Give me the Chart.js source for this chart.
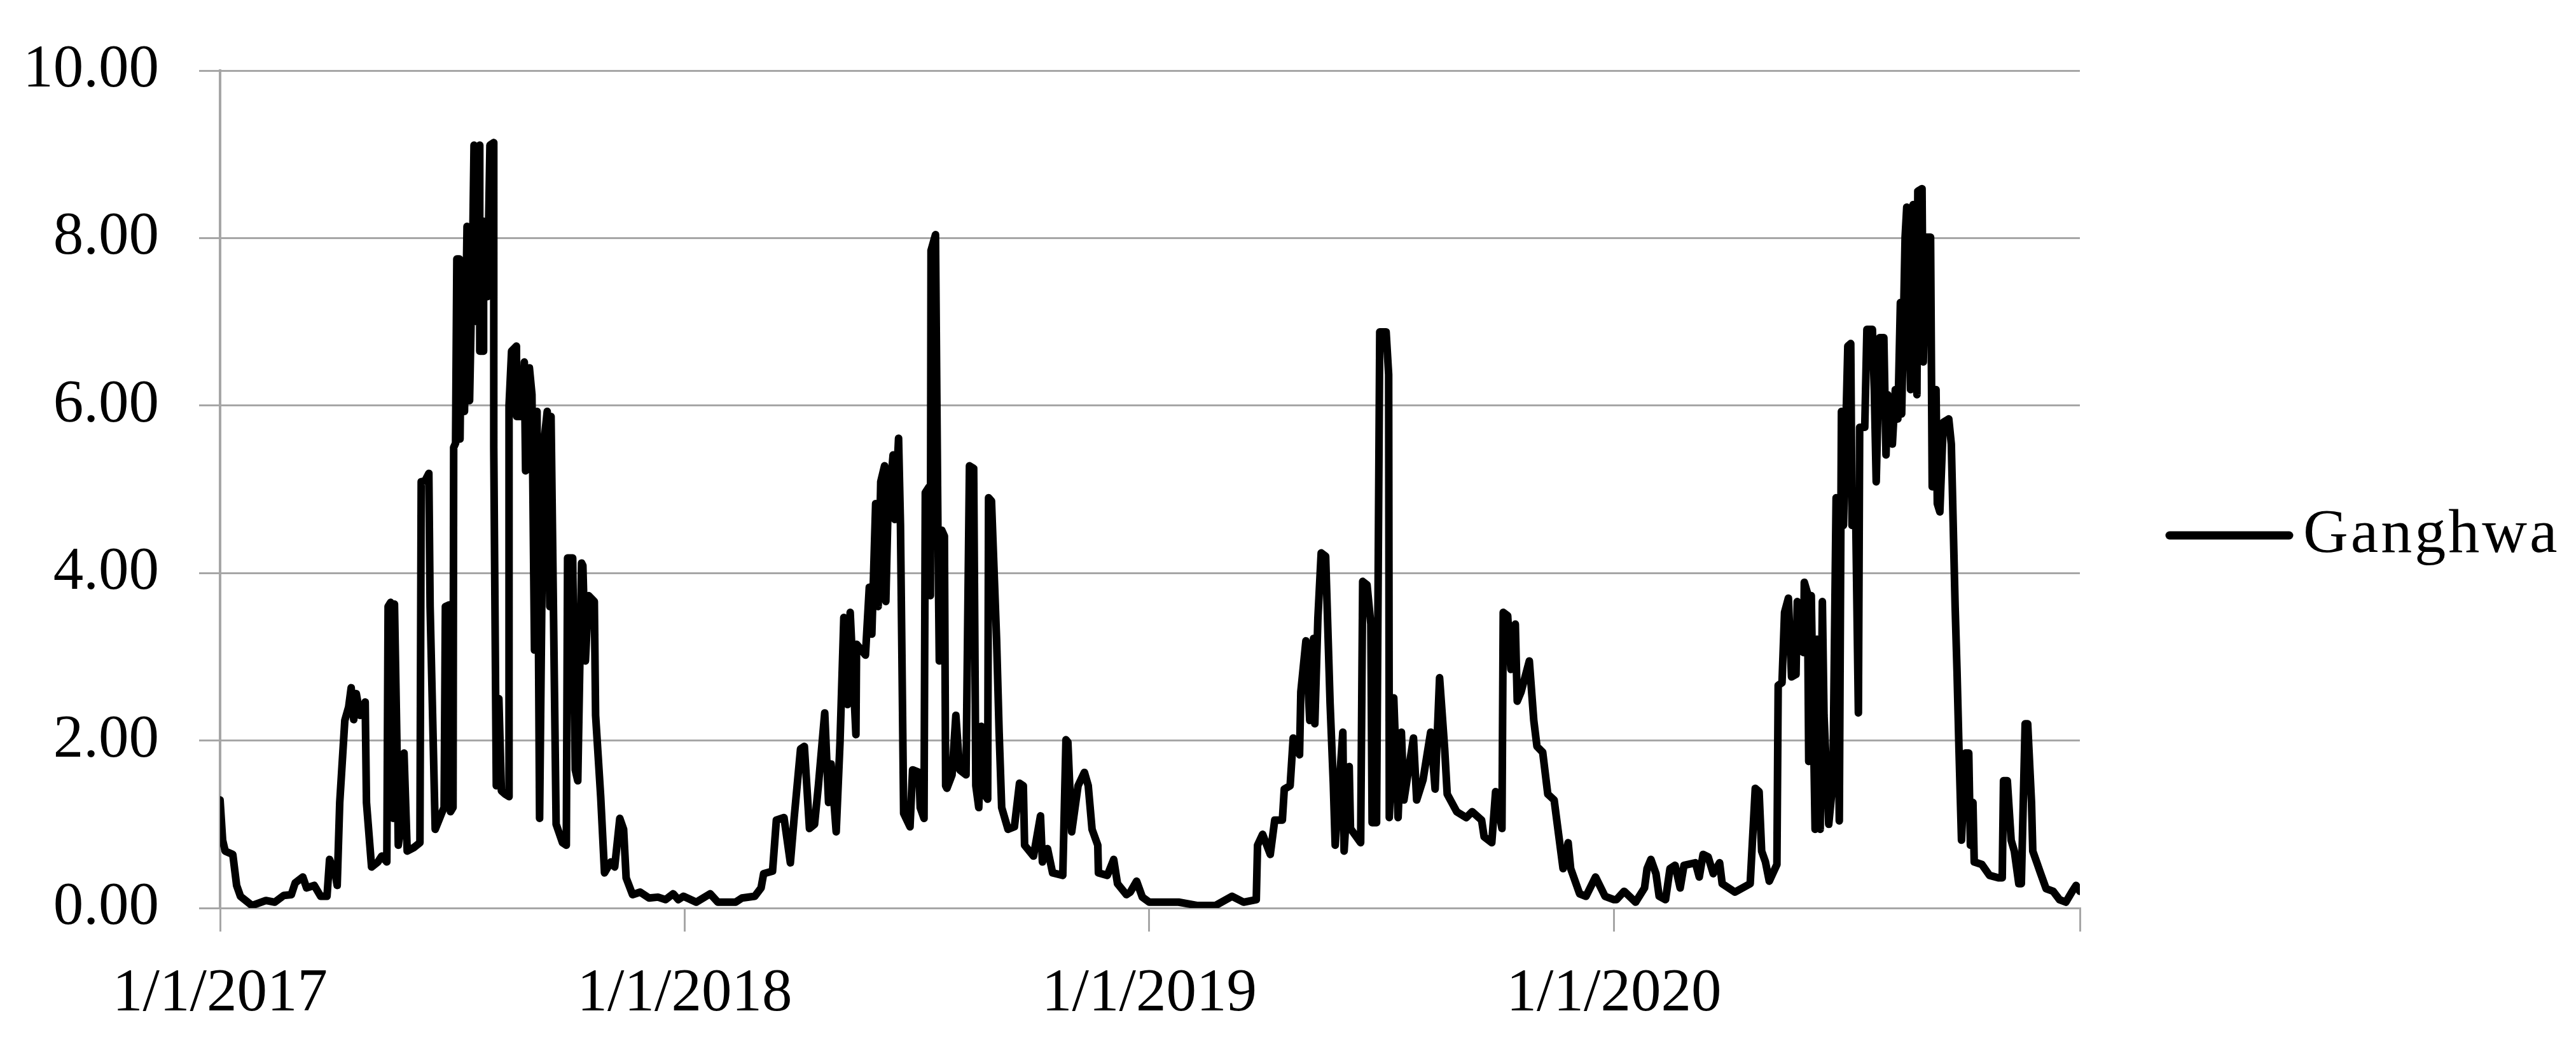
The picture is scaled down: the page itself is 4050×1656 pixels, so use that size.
<!DOCTYPE html>
<html>
<head>
<meta charset="utf-8">
<script src="https://cdn.jsdelivr.net/npm/chart.js@4.4.1/dist/chart.umd.min.js"></script>
<style>
html,body{margin:0;padding:0;background:#ffffff;}
#wrap{width:4050px;height:1656px;}
</style>
</head>
<body>
<div id="wrap"><canvas id="c" width="4050" height="1656"></canvas></div>
<script>
// ---- data (x = days since 1/1/2017) ----
const seriesName = 'Ganghwa';
const tickDays = [0, 365, 730, 1095, 1461];
const tickLabels = ['1/1/2017', '1/1/2018', '1/1/2019', '1/1/2020', ''];
const yTicks = [0, 2, 4, 6, 8, 10];

const days2017 = [0,2,4,10,13,16,25,36,43,50,56,59,65,68,74,79,84,86,88,90,92,94,98,101,103,105,107,110,114,115,119,124,127,131,132,134,136,137,139,140,143,144.5,147,152,157,158,161,164,165,169,174,176,177,180,181,183,183.5,185,186,188,188.5,190,192,194,196,198.7,199.5,202,204,204,207,207,210,212,215,215,217,219,221,224,227,227,229,232.8,233,237,239,240,243,245,247,249,251,254,257,259,260,264,269,272,273,277,279,281,284,285,287,289.5,294,295,299,302,307,310,314,317,319,324,330,337,344,350,356,360];
const vals2017 = [1.29,0.81,0.68,0.64,0.27,0.14,0.03,0.09,0.07,0.15,0.16,0.30,0.37,0.24,0.27,0.14,0.14,0.58,0.50,0.45,0.27,1.26,2.24,2.40,2.63,2.25,2.56,2.30,2.46,1.26,0.49,0.55,0.62,0.55,3.60,3.65,1.07,3.63,1.90,0.75,1.10,1.85,0.68,0.72,0.78,5.09,5.10,5.19,3.60,0.94,1.13,1.20,3.60,3.62,1.15,1.20,5.50,5.55,7.75,7.75,5.60,7.70,5.93,8.14,6.06,8.20,9.11,7.00,9.11,6.65,6.65,8.20,7.30,9.11,9.14,5.50,1.46,2.50,1.40,1.36,1.33,6.00,6.65,6.71,5.87,5.87,6.52,5.22,6.45,6.13,3.08,5.93,1.07,5.50,5.93,3.60,5.87,1.00,0.78,0.75,4.18,4.18,1.65,1.52,4.12,4.09,2.95,3.73,3.66,2.30,1.33,0.42,0.55,0.49,1.07,0.94,0.36,0.16,0.19,0.12,0.13,0.10,0.17,0.10];

const days2018 = [364,374,385,391,405,410,420,425,427,434,437,443,448,451,456,459,463,467,470,475,478,480,484,487,490,493,495,499.5,500,507,510,512,515,517,519,522,523,524.5,528.7,530,533,534.5,537,542,544,549,550,553,554,557,558,558.5,562,564,565,567,569,570,571,575,578,581,586,588.7,592,593.7,596,598,599,603,603.7,606,610,612,614,619,624,628,631,632,639,644.5,646,650,654,662,664.5,666,669,674,679,682,685,689.5,690,697,702,705,712,715,720,724.5];
const vals2018 = [0.14,0.07,0.17,0.07,0.07,0.12,0.14,0.24,0.41,0.44,1.05,1.08,0.54,1.08,1.90,1.93,0.95,1.00,1.46,2.33,1.26,1.72,0.91,1.98,3.47,2.43,3.53,2.07,3.15,3.02,3.83,3.27,4.83,3.60,5.09,5.28,3.66,4.64,5.41,4.64,5.61,4.57,1.13,0.97,1.65,1.62,1.20,1.07,4.96,5.03,3.73,7.85,8.04,4.38,2.95,4.51,4.44,1.46,1.43,1.59,2.30,1.65,1.59,5.28,5.25,1.46,1.20,2.17,1.39,1.30,4.90,4.86,3.21,2.10,1.20,0.94,0.97,1.49,1.46,0.75,0.62,1.10,0.55,0.71,0.42,0.39,2.01,1.98,0.91,1.46,1.62,1.46,0.94,0.75,0.42,0.39,0.58,0.29,0.16,0.19,0.32,0.13];

const days2019 = [730,753,768,782,795,804,814,815,819,825,828.5,834.5,836,840.6,843,848,849,853,856,859,860,862.4,865,868.5,872,874.5,876,882,883,887,888,896,897.6,901,904,905,908.5,911,916,918,918.5,922,925.4,928,930,937.5,940,945,951,954.5,958,962,964,971.5,979,983.6,991,993,999,1002,1007,1008,1011.5,1014,1017.5,1019,1022,1028.5,1032,1034.5,1039,1043,1048,1051.5,1055,1059,1061,1068,1073,1080.5,1088];
const vals2019 = [0.07,0.07,0.03,0.03,0.14,0.07,0.10,0.75,0.88,0.64,1.05,1.05,1.42,1.46,2.03,1.83,2.58,3.19,2.24,3.22,2.20,3.46,4.24,4.20,2.44,1.49,0.75,2.10,0.68,1.69,0.95,0.78,3.90,3.86,3.39,1.02,1.02,6.88,6.88,6.37,1.08,2.51,1.08,2.10,1.29,2.03,1.29,1.53,2.10,1.42,2.75,1.90,1.36,1.15,1.08,1.15,1.05,0.85,0.78,1.39,0.95,3.53,3.49,2.85,3.39,2.47,2.58,2.95,2.24,1.93,1.86,1.36,1.29,0.88,0.47,0.78,0.47,0.17,0.14,0.37,0.14];

const days2020 = [1095,1097,1103,1112,1119,1121,1124,1128,1130.5,1135.5,1139,1143,1147,1150,1159,1162,1165,1169,1173,1178,1180,1190,1202,1206,1209,1211,1214,1217,1223,1224,1227,1229,1232,1234.5,1238,1239,1241,1244,1244.5,1247,1248,1250,1253,1254.5,1257,1258.7,1260,1263.7,1267,1269.5,1272,1273.7,1275.3,1278.7,1281,1282,1285,1287,1288,1292,1293.7,1298,1299.5,1301,1303.7,1307,1308.7,1310,1313.7,1316,1318,1320,1321,1323.7,1325,1328,1330,1333,1333.7,1337,1338,1340,1343.7,1345,1348,1349,1351,1353.7,1358,1360,1363,1364.5,1366,1368,1371,1373.7,1375,1377,1378,1384,1390,1397,1400,1401,1404,1407,1409.5,1413,1415,1418,1420,1423,1424,1427,1430,1434.5,1440,1445,1450,1455,1458,1461];
const vals2020 = [0.10,0.10,0.20,0.07,0.24,0.47,0.58,0.41,0.14,0.10,0.47,0.51,0.24,0.51,0.54,0.37,0.64,0.61,0.41,0.54,0.29,0.19,0.29,1.43,1.39,0.68,0.55,0.32,0.52,2.66,2.69,3.53,3.70,2.76,2.79,3.66,3.08,3.05,3.89,3.76,1.75,3.73,0.94,3.21,0.94,3.66,2.30,1.00,1.52,4.90,1.04,5.93,4.57,6.71,6.74,4.57,4.57,2.33,5.74,5.74,6.91,6.91,6.19,5.09,6.81,6.81,5.41,6.13,5.54,6.19,5.84,7.23,5.90,8.01,8.37,6.19,8.40,6.13,8.56,8.59,6.52,8.01,8.01,5.03,6.19,4.83,4.73,5.80,5.84,5.54,3.60,2.82,1.91,0.81,1.85,1.85,0.75,1.26,0.55,0.52,0.39,0.36,0.36,1.52,1.52,0.81,0.68,0.29,0.29,2.20,2.20,1.26,0.68,0.55,0.42,0.23,0.20,0.10,0.07,0.20,0.27,0.20];

// ---- build ----
const allDays = [].concat(days2017, days2018, days2019, days2020);
const allVals = [].concat(vals2017, vals2018, vals2019, vals2020);
const points = allDays.map((d, i) => ({ x: d, y: allVals[i] }));

const FONT = "'Liberation Serif', 'Times New Roman', serif";
const GRID = '#a6a6a6';

const sideLegend = {
  id: 'sideLegend',
  afterDraw(chart) {
    const { ctx, chartArea } = chart;
    const y = chart.height / 2 + 14;
    const x0 = chartArea.right + 141;
    ctx.save();
    ctx.strokeStyle = '#000';
    ctx.lineWidth = 13;
    ctx.lineCap = 'round';
    ctx.beginPath();
    ctx.moveTo(x0, y);
    ctx.lineTo(x0 + 188, y);
    ctx.stroke();
    ctx.fillStyle = '#000';
    ctx.font = '98px ' + FONT;
    if ('letterSpacing' in ctx) ctx.letterSpacing = '4px';
    ctx.textBaseline = 'middle';
    ctx.textAlign = 'left';
    ctx.fillText(seriesName, x0 + 210, y);
    ctx.restore();
  }
};

new Chart(document.getElementById('c'), {
  type: 'line',
  data: {
    datasets: [{
      label: seriesName,
      data: points,
      borderColor: '#000000',
      backgroundColor: '#000000',
      borderWidth: 12,
      borderJoinStyle: 'round',
      borderCapStyle: 'round',
      pointRadius: 0,
      tension: 0,
      fill: false
    }]
  },
  options: {
    responsive: false,
    animation: false,
    devicePixelRatio: 1,
    layout: { padding: { left: 0, right: 780, top: 111, bottom: 0 } },
    plugins: { legend: { display: false }, tooltip: { enabled: false } },
    scales: {
      x: {
        type: 'linear',
        min: tickDays[0],
        max: tickDays[tickDays.length - 1],
        afterBuildTicks: s => { s.ticks = tickDays.map(v => ({ value: v })); },
        afterFit: s => { s.height = 228; },
        ticks: {
          autoSkip: false,
          maxRotation: 0,
          color: '#000',
          padding: 42,
          font: { family: FONT, size: 95 },
          callback: (v, i) => tickLabels[i]
        },
        grid: { drawOnChartArea: false, drawTicks: true, tickLength: 37, color: GRID, lineWidth: 3 },
        border: { display: true, color: GRID, width: 3 }
      },
      y: {
        min: 0,
        max: 10,
        afterBuildTicks: s => { s.ticks = yTicks.map(v => ({ value: v })); },
        afterFit: s => { s.width = 346; s.paddingTop = 0; s.paddingBottom = 0; },
        ticks: {
          color: '#000',
          padding: 63,
          font: { family: FONT, size: 95 },
          callback: v => Number(v).toFixed(2)
        },
        grid: { color: GRID, lineWidth: 3, drawTicks: true, tickLength: 33 },
        border: { display: true, color: GRID, width: 4 }
      }
    }
  },
  plugins: [sideLegend]
});
</script>
</body>
</html>
